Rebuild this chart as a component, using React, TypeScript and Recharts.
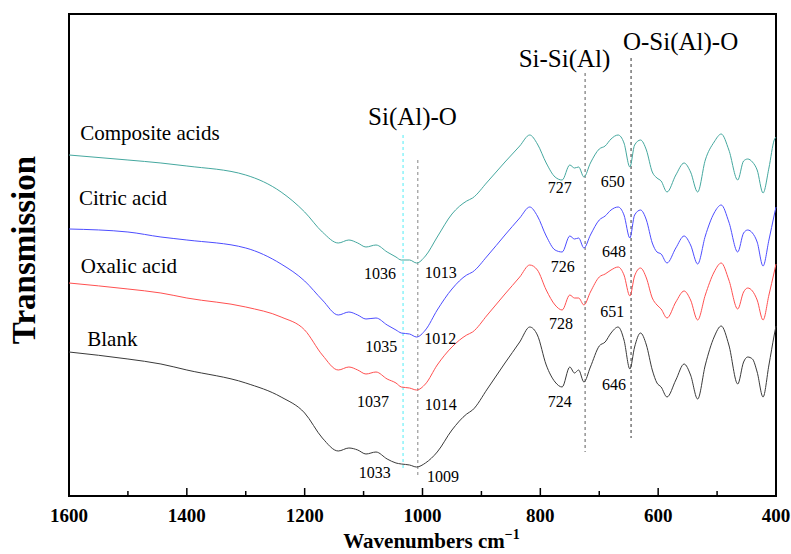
import {
  LineChart, Line, XAxis, YAxis, ReferenceLine, ReferenceDot, ReferenceArea,
} from "recharts"

const SERIF = "Liberation Serif"

// wavenumber grid (cm-1), shared by all spectra
const wavenumbers = [
  1600, 1500, 1444, 1400, 1300, 1240, 1200, 1170, 1143, 1125,
  1110, 1096, 1079, 1060, 1045, 1036, 1022, 1010, 995, 975,
  950, 925, 915, 890, 860, 835, 818, 805, 790, 775,
  763, 750, 742, 735, 726, 715, 700, 690, 680, 668,
  658, 648, 640, 630, 620, 610, 602, 595, 585, 570,
  556, 545, 533, 520, 505, 493, 480, 465, 455, 448,
  440, 432, 422, 412, 403, 400,
]

// transmission, arbitrary units (stacked offsets)
const blank = [
  148, 141, 136, 130, 117, 103, 87, 62, 49, 52,
  50, 46, 48, 41, 37, 36, 35, 33, 37, 48,
  70, 86, 90, 111, 137, 158, 173, 165, 135, 118,
  113, 133, 127, 130, 118, 133, 154, 158, 167, 173,
  160, 131, 153, 167, 155, 130, 117, 113, 103, 120,
  136, 125, 101, 135, 163, 174, 155, 116, 138, 143,
  141, 128, 103, 135, 165, 174,
]
const oxalic = [
  217, 211, 207, 202, 193, 183, 170, 145, 130, 133,
  130, 126, 128, 121, 117, 113, 112, 110, 116, 135,
  153, 165, 168, 185, 206, 223, 235, 230, 210, 195,
  190, 205, 202, 202, 195, 208, 223, 226, 230, 233,
  225, 204, 224, 232, 222, 202, 195, 191, 182, 198,
  209, 200, 180, 205, 228, 237, 220, 191, 208, 212,
  209, 200, 180, 205, 228, 236,
]
const citric = [
  271, 268, 263, 260, 252, 236, 219, 200, 185, 188,
  185, 181, 182, 175, 170, 167, 166, 163, 170, 190,
  211, 225, 228, 244, 265, 282, 293, 284, 264, 250,
  248, 264, 261, 262, 252, 265, 280, 284, 290, 293,
  285, 262, 285, 290, 280, 257, 248, 246, 237, 252,
  264, 255, 236, 264, 287, 295, 278, 248, 267, 270,
  267, 258, 234, 260, 285, 293,
]
const composite = [
  345, 340, 337, 334, 325, 308, 288, 268, 257, 260,
  257, 253, 255, 248, 243, 240, 240, 237, 244, 263,
  286, 299, 302, 318, 338, 354, 365, 356, 337, 323,
  320, 335, 332, 333, 323, 337, 351, 354, 361, 365,
  357, 333, 355, 360, 350, 328, 322, 319, 308, 325,
  337, 328, 308, 340, 358, 366, 350, 320, 339, 341,
  338, 330, 307, 332, 360, 363,
]

const xTicks = [1600, 1500, 1400, 1300, 1200, 1100, 1000, 900, 800, 700, 600, 500, 400]

// curve names
const seriesNames = ["Composite acids", "Citric acid", "Oxalic acid", "Blank"]
const seriesNameX = [1581, 1583, 1580, 1569]
const seriesNameY = [360, 295, 227, 154]

// peak positions marked on the spectra
const peakTexts = ["1036", "1013", "1035", "1012", "1037", "1014", "1033", "1009",
  "727", "650", "726", "648", "728", "651", "724", "646"]
const peakX = [1072, 969, 1070, 970, 1084, 969, 1081, 965, 767, 677, 762, 675, 765, 678, 767, 675]
const peakY = [221, 222, 148, 156, 93, 90, 22, 18, 307, 313, 228, 243, 171, 183, 93, 110]

// band assignments
const bandTexts = ["Si(Al)-O", "Si-Si(Al)", "O-Si(Al)-O"]
const bandX = [1017, 759, 562]
const bandY = [375, 433, 450]

// dashed marker lines
const markerX = [1033, 1008, 724, 646]
const markerTop = [365, 340, 427, 442]
const markerBottom = [30, 23, 48, 62]
const markerColor = ["#6ef0f7", "#999999", "#777777", "#555555"]

const data = wavenumbers.map((wn, i) => ({
  wn,
  blank: blank[i],
  oxalic: oxalic[i],
  citric: citric[i],
  composite: composite[i],
}))

function WaveTick({ x, y, payload }: any) {
  const major = payload.value % 200 === 0
  return (
    <g>
      <line x1={x} x2={x} y1={y} y2={y - (major ? 8 : 5)} stroke="#000" strokeWidth={1.5} />
      {major && (
        <text x={x} y={y + 26} textAnchor="middle" fill="#000"
          style={{ fontFamily: SERIF, fontSize: 19, fontWeight: "bold" }}>
          {payload.value}
        </text>
      )}
    </g>
  )
}

function YTitle({ viewBox }: any) {
  const cx = 35
  const cy = viewBox.y + viewBox.height / 2 - 5
  return (
    <text x={cx} y={cy} transform={`rotate(-90, ${cx}, ${cy})`} textAnchor="middle" fill="#000"
      style={{ fontFamily: SERIF, fontSize: 33, fontWeight: "bold" }}>
      Transmission
    </text>
  )
}

function XTitle({ viewBox }: any) {
  const cx = viewBox.x + viewBox.width / 2 + 9
  return (
    <text x={cx} y={548} textAnchor="middle" fill="#000"
      style={{ fontFamily: SERIF, fontSize: 21, fontWeight: "bold" }}>
      Wavenumbers cm<tspan dy={-9} style={{ fontSize: 14 }}>−1</tspan>
    </text>
  )
}

const textShape = (txt: string, size: number, anchor: string) => (p: any) => (
  <text x={p.cx} y={p.cy} textAnchor={anchor} fill="#000"
    style={{ fontFamily: SERIF, fontSize: size }}>
    {txt}
  </text>
)

export default function App() {
  return (
    <div style={{ position: "absolute", left: 0, top: 0, width: 791, height: 554, background: "#fff" }}>
      <LineChart width={791} height={554} data={data} margin={{ top: 14, right: 15, bottom: 0, left: 0 }}>
        <XAxis
          dataKey="wn"
          type="number"
          domain={[400, 1600]}
          reversed
          ticks={xTicks}
          interval={0}
          height={58}
          axisLine={false}
          tickLine={false}
          tickSize={0}
          tickMargin={0}
          tick={<WaveTick />}
          label={<XTitle />}
        />
        <YAxis
          type="number"
          domain={[4, 486]}
          width={69}
          tick={false}
          axisLine={false}
          tickLine={false}
          label={<YTitle />}
        />
        <ReferenceArea x1={1600} x2={400} y1={4} y2={486} fill="none" stroke="#000" strokeWidth={2} />

        {markerX.map((mx, i) => (
          <ReferenceLine
            key={"m" + i}
            segment={[{ x: mx, y: markerTop[i] }, { x: mx, y: markerBottom[i] }]}
            stroke={markerColor[i]}
            strokeDasharray="3 3"
            strokeWidth={1.2}
          />
        ))}

        <Line type="monotone" dataKey="composite" stroke="#45a89f" strokeWidth={1} dot={false} isAnimationActive={false} />
        <Line type="monotone" dataKey="citric" stroke="#4d4dff" strokeWidth={1} dot={false} isAnimationActive={false} />
        <Line type="monotone" dataKey="oxalic" stroke="#ff5050" strokeWidth={1} dot={false} isAnimationActive={false} />
        <Line type="monotone" dataKey="blank" stroke="#3a3a3a" strokeWidth={1} dot={false} isAnimationActive={false} />

        {seriesNames.map((n, i) => (
          <ReferenceDot key={"s" + i} x={seriesNameX[i]} y={seriesNameY[i]} r={0}
            shape={textShape(n, 21, "start")} />
        ))}
        {peakTexts.map((t, i) => (
          <ReferenceDot key={"p" + i} x={peakX[i]} y={peakY[i]} r={0}
            shape={textShape(t, 16, "middle")} />
        ))}
        {bandTexts.map((t, i) => (
          <ReferenceDot key={"b" + i} x={bandX[i]} y={bandY[i]} r={0}
            shape={textShape(t, 25, "middle")} />
        ))}
      </LineChart>
    </div>
  )
}
